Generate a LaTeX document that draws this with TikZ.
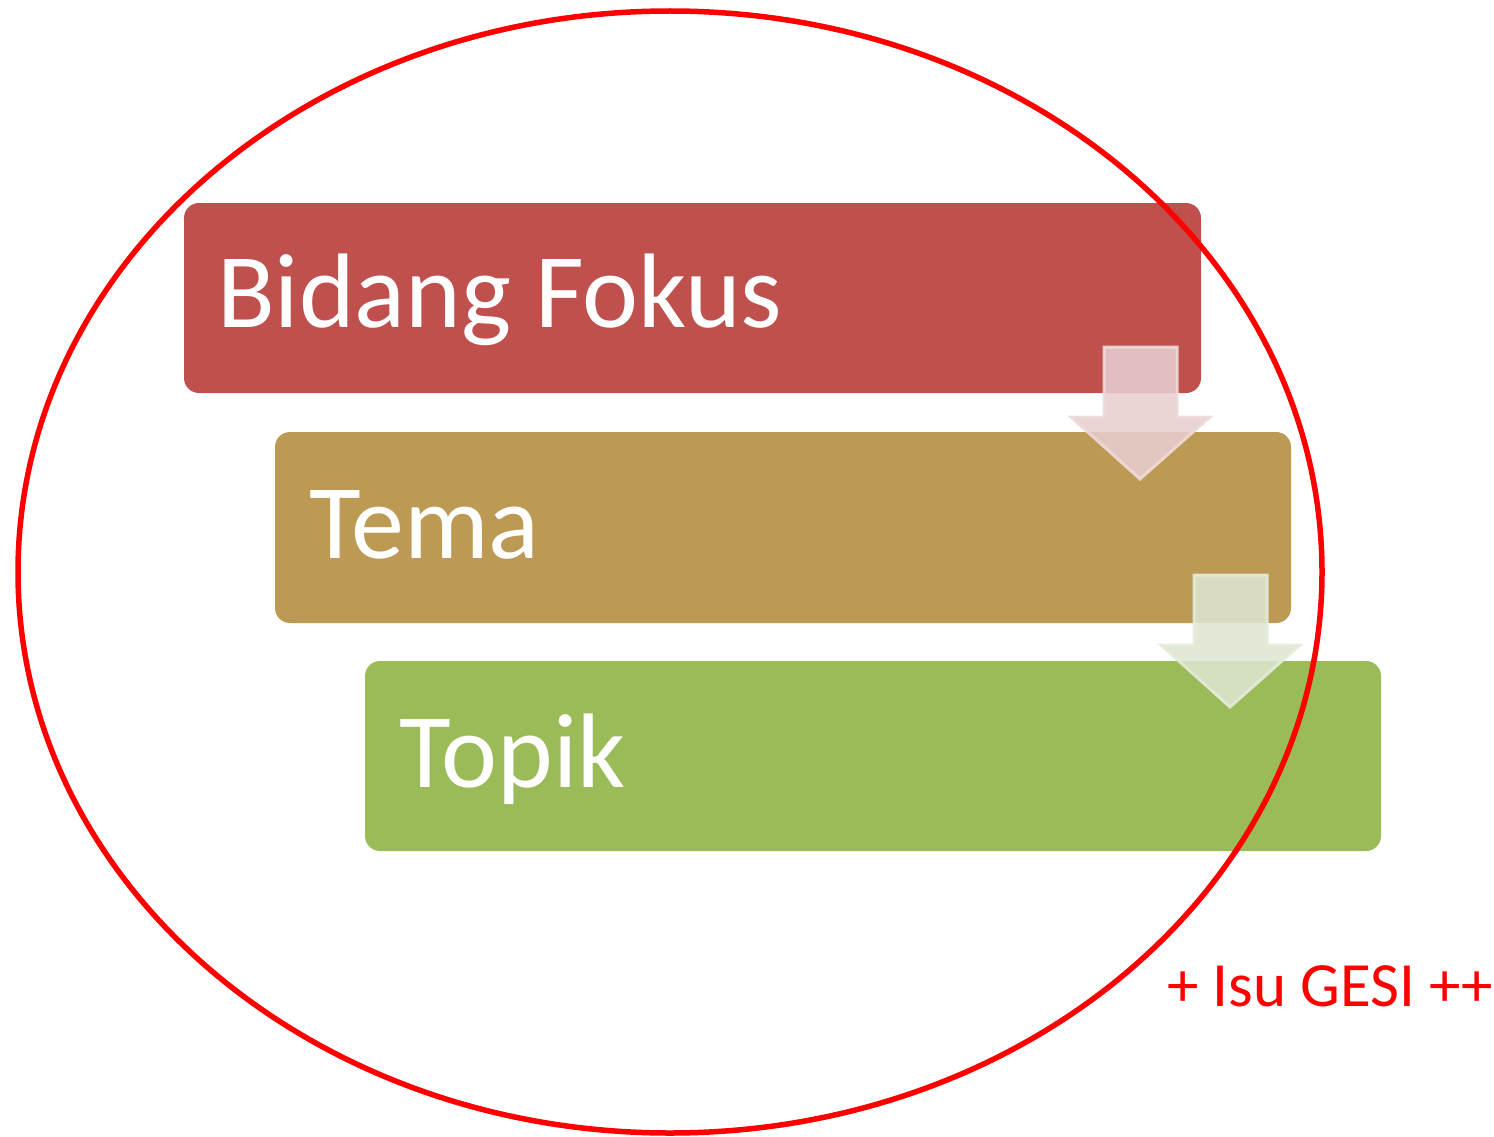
\documentclass[tikz,border=0pt]{standalone}
\usepackage{fontspec}
\setmainfont{Carlito}
\definecolor{boxred}{RGB}{192,80,77}
\definecolor{boxtan}{RGB}{189,154,83}
\definecolor{boxgreen}{RGB}{155,187,89}
\definecolor{arrpink}{RGB}{231,206,206}
\definecolor{arrpinkline}{RGB}{238,218,218}
\definecolor{arrgreen}{RGB}{222,230,208}
\definecolor{arrgreenline}{RGB}{228,236,218}
\definecolor{gesired}{RGB}{255,0,0}
\begin{document}
\begin{tikzpicture}[x=1pt,y=-1pt,
  stage/.style={rounded corners=15pt},
  stagetext/.style={anchor=base west,inner sep=0pt,text=white,font=\fontsize{106}{120}\selectfont},
  downarrow/.style={line width=3pt,fill opacity=0.88,draw opacity=0.9,line join=miter}]
\useasboundingbox (0,0) rectangle (1494,1137);
% boxes
\fill[boxred,stage] (184,203) rectangle (1201,393);
\fill[boxtan,stage] (275,432) rectangle (1291,623);
\fill[boxgreen,stage] (365,661) rectangle (1381,851);
\node[stagetext] (bf) at (217,327) {Bidang Fokus};
\node[stagetext] (tm) at (309,558) {Tema};
\node[stagetext] (tp) at (399,787) {Topik};
% arrows
\draw[downarrow,fill=arrpink,draw=arrpinkline]
  (1104,347) -- (1177,347) -- (1177,417) -- (1210,417) -- (1140,479) -- (1071,417) -- (1104,417) -- cycle;
\draw[downarrow,fill=arrgreen,draw=arrgreenline]
  (1194,575) -- (1267,575) -- (1267,645) -- (1300,645) -- (1230,707) -- (1161,645) -- (1194,645) -- cycle;
% ellipse
\draw[gesired,line width=5.5pt] (670,572) ellipse [x radius=652pt, y radius=561pt];
\node[anchor=base east,inner sep=0pt,text=gesired,font=\fontsize{63}{70}\selectfont] (gesi) at (1493,1006) {+ Isu GESI ++};
\end{tikzpicture}
\end{document}
